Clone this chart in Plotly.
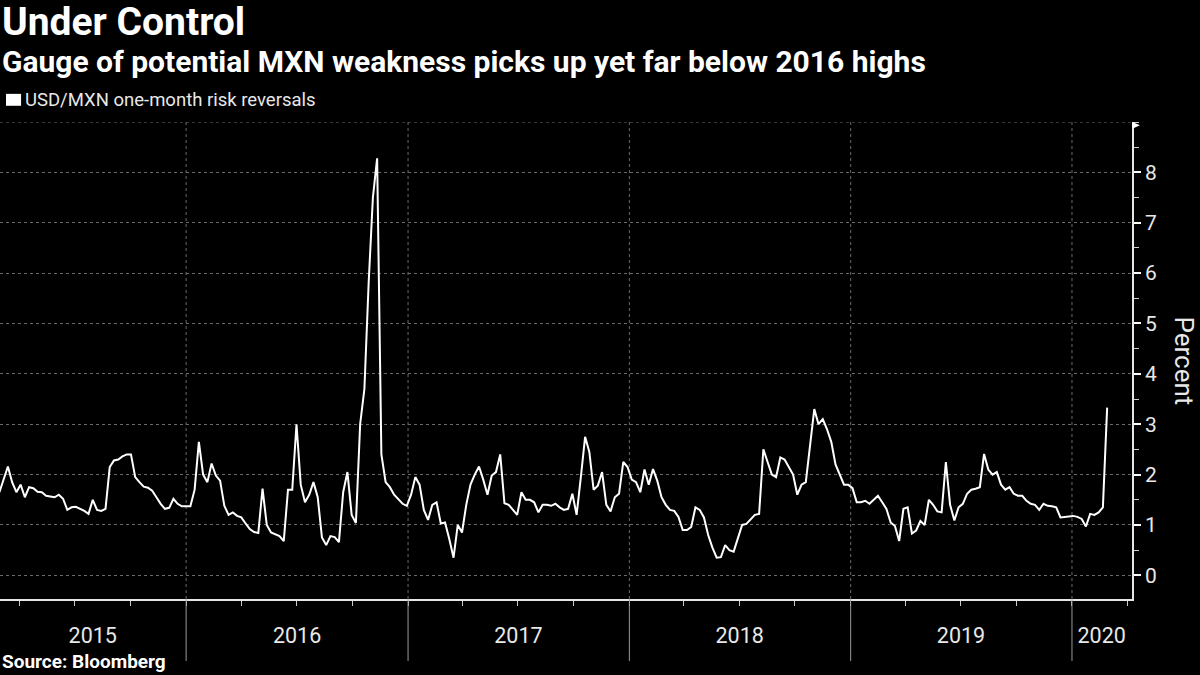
import plotly.graph_objects as go
import pandas as pd

# ---------------- data (weekly readings) ----------------
start_date = "2015-02-27"
risk_reversal = [
    1.65, 1.90, 2.16, 1.85, 1.65, 1.80, 1.55, 1.75, 1.73, 1.66,
    1.65, 1.58, 1.56, 1.55, 1.60, 1.52, 1.30, 1.35, 1.36, 1.32,
    1.28, 1.22, 1.50, 1.30, 1.28, 1.32, 2.15, 2.28, 2.30, 2.36,
    2.40, 2.40, 1.95, 1.85, 1.76, 1.74, 1.68, 1.55, 1.42, 1.32,
    1.34, 1.52, 1.42, 1.37, 1.37, 1.37, 1.70, 2.65, 2.00, 1.85,
    2.22, 1.98, 1.88, 1.38, 1.20, 1.25, 1.18, 1.15, 1.03, 0.92,
    0.86, 0.84, 1.72, 1.00, 0.85, 0.82, 0.78, 0.68, 1.70, 1.70,
    3.00, 1.80, 1.45, 1.60, 1.85, 1.55, 0.75, 0.60, 0.78, 0.76,
    0.66, 1.65, 2.05, 1.20, 1.04, 3.00, 3.70, 5.80, 7.50, 8.28,
    2.40, 1.85, 1.75, 1.60, 1.52, 1.42, 1.38, 1.60, 1.95, 1.80,
    1.30, 1.10, 1.40, 1.45, 1.03, 1.05, 0.72, 0.35, 1.00, 0.85,
    1.40, 1.80, 2.00, 2.16, 1.90, 1.60, 1.98, 2.05, 2.40, 1.43,
    1.40, 1.30, 1.20, 1.65, 1.50, 1.50, 1.45, 1.25, 1.40, 1.40,
    1.38, 1.42, 1.35, 1.30, 1.32, 1.62, 1.20, 1.95, 2.75, 2.45,
    1.70, 1.78, 2.05, 1.40, 1.27, 1.55, 1.62, 2.25, 2.15, 1.90,
    1.85, 1.65, 2.10, 1.80, 2.11, 1.88, 1.55, 1.40, 1.30, 1.28,
    1.16, 0.90, 0.90, 0.96, 1.35, 1.30, 1.15, 0.80, 0.55, 0.35,
    0.36, 0.60, 0.50, 0.47, 0.75, 1.00, 1.02, 1.10, 1.20, 1.22,
    2.50, 2.25, 2.00, 1.95, 2.34, 2.30, 2.15, 2.00, 1.60, 1.80,
    1.85, 2.60, 3.30, 3.00, 3.10, 2.90, 2.65, 2.20, 2.00, 1.80,
    1.80, 1.73, 1.45, 1.45, 1.48, 1.42, 1.50, 1.58, 1.45, 1.32,
    1.05, 0.98, 0.68, 1.32, 1.35, 0.83, 0.89, 1.08, 1.00, 1.50,
    1.40, 1.27, 1.25, 2.25, 1.40, 1.09, 1.35, 1.42, 1.62, 1.70,
    1.72, 1.75, 2.41, 2.10, 2.00, 2.05, 1.80, 1.70, 1.75, 1.62,
    1.58, 1.58, 1.48, 1.42, 1.40, 1.30, 1.42, 1.38, 1.37, 1.35,
    1.15, 1.16, 1.18, 1.18, 1.16, 1.12, 0.97, 1.22, 1.20, 1.25,
    1.35, 3.33,
]
dates = pd.date_range(start_date, periods=len(risk_reversal), freq="7D")

series_name = "USD/MXN one-month risk reversals"
year_labels = ["2015", "2016", "2017", "2018", "2019", "2020"]
year_label_pos = ["2015-07-31", "2016-07-02", "2017-07-02", "2018-07-02", "2019-07-02", "2020-02-19"]
year_bounds = ["2016-01-01", "2017-01-01", "2018-01-01", "2019-01-01", "2020-01-01"]
quarter_ticks = [d.strftime("%Y-%m-%d") for d in pd.date_range("2015-04-01", "2020-04-01", freq="QS")]
y_ticks = list(range(0, 9))
x_range = ["2015-02-28", "2020-04-09"]
y_range = [-0.47, 9]

# ---------------- figure ----------------
FONT = "Roboto"
GRID = "#6a6a6a"
TXT = "#e8e8e8"

fig = go.Figure()
fig.add_trace(go.Scatter(
    x=dates, y=risk_reversal, mode="lines", name=series_name,
    line=dict(color="white", width=2), showlegend=False,
))

shapes = []
for b in year_bounds:
    shapes.append(dict(type="line", xref="x", yref="paper", x0=b, x1=b, y0=0, y1=1,
                       line=dict(color=GRID, width=1, dash="dot"), layer="below"))
    shapes.append(dict(type="line", xref="x", yref="paper", x0=b, x1=b, y0=0, y1=-0.13,
                       line=dict(color="#9a9a9a", width=1)))
# top gridline
shapes.append(dict(type="line", xref="paper", yref="y", x0=0, x1=1, y0=y_range[1], y1=y_range[1],
                   line=dict(color=GRID, width=1, dash="dot"), layer="below"))
# legend square
shapes.append(dict(type="rect", xref="paper", yref="paper", x0=0.0053, x1=0.0186, y0=1.034, y1=1.059,
                   fillcolor="white", line=dict(width=0)))
# small arrow head at the top of the value axis
shapes.append(dict(type="path", xref="paper", yref="paper",
                   path="M 1.0003,1.0 L 1.0003,0.986 L 1.007,0.993 Z",
                   fillcolor="white", line=dict(width=0)))

annotations = [
    dict(text="<b>Under Control</b>", xref="paper", yref="paper", x=0.0, y=1.210,
         xanchor="left", yanchor="middle", showarrow=False,
         font=dict(family=FONT, size=39, color="white")),
    dict(text="<b>Gauge of potential MXN weakness picks up yet far below 2016 highs</b>",
         xref="paper", yref="paper", x=0.0, y=1.126, xanchor="left", yanchor="middle",
         showarrow=False, font=dict(family=FONT, size=30, color="white")),
    dict(text=series_name, xref="paper", yref="paper", x=0.02, y=1.046,
         xanchor="left", yanchor="middle", showarrow=False,
         font=dict(family=FONT, size=18.5, color=TXT)),
    dict(text="<b>Source: Bloomberg</b>", xref="paper", yref="paper", x=0.0, y=-0.130,
         xanchor="left", yanchor="middle", showarrow=False,
         font=dict(family=FONT, size=19, color="white")),
    dict(text="Percent", xref="paper", yref="paper", x=1.046, y=0.50,
         xanchor="center", yanchor="middle", textangle=90, showarrow=False,
         font=dict(family=FONT, size=26, color=TXT)),
]

fig.update_layout(
    width=1200, height=675, autosize=False,
    paper_bgcolor="black", plot_bgcolor="black",
    margin=dict(l=0, r=68, t=122, b=76, pad=0),
    shapes=shapes, annotations=annotations,
    xaxis=dict(
        type="date", range=x_range, tickmode="array", tickvals=year_label_pos, ticktext=year_labels,
        ticks="", showgrid=False, zeroline=False, showline=True, linecolor="#e6e6e6", linewidth=1.5,
        tickfont=dict(family=FONT, size=21.5, color=TXT), ticklabelstandoff=16,
        minor=dict(tickmode="array", tickvals=quarter_ticks, ticks="outside", ticklen=5,
                   tickcolor="#cccccc", tickwidth=1, showgrid=False),
    ),
    yaxis=dict(
        side="right", range=y_range, tickmode="array", tickvals=y_ticks,
        ticks="outside", ticklen=7, tickwidth=2, tickcolor="white",
        showline=True, linecolor="#e6e6e6", linewidth=1.5,
        showgrid=True, gridcolor=GRID, griddash="dot", gridwidth=1, zeroline=False,
        tickfont=dict(family=FONT, size=21, color=TXT),
        minor=dict(dtick=0.5, tick0=0, ticks="outside", ticklen=5, tickcolor="#cccccc",
                   tickwidth=1, showgrid=False),
    ),
)

fig.write_html("out.html")
